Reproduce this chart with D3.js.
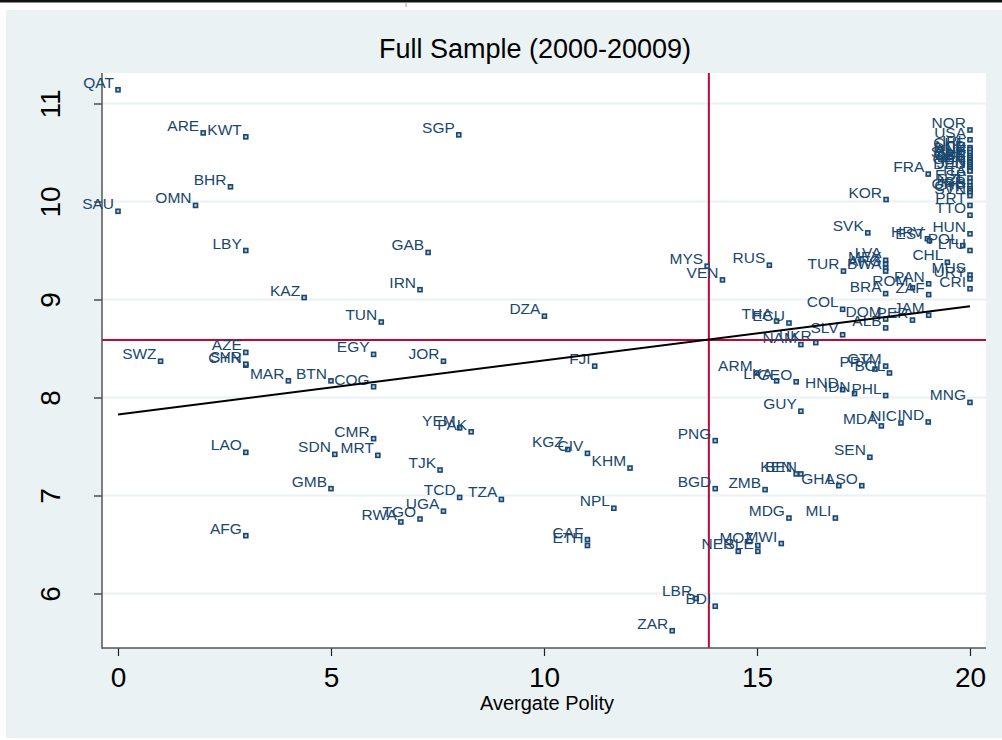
<!DOCTYPE html>
<html>
<head>
<meta charset="utf-8">
<script src="https://d3js.org/d3.v7.min.js"></script>
<style>
	body { margin: 0; background: #fff; }
	svg { display: block; font-family: 'Liberation Sans', Arial, sans-serif; }
</style>
</head>
<body>
<svg id="chart" width="1002" height="740"></svg>
<script>
// country codes, average polity (x) and log income (y)
var countries = ['QAT', 'ARE', 'KWT', 'SGP', 'BHR', 'OMN', 'SAU', 'LBY', 'GAB', 'KAZ',
	'IRN', 'TUN', 'DZA', 'SWZ', 'AZE', 'CHN', 'SYR', 'EGY', 'JOR', 'FJI',
	'MAR', 'BTN', 'COG', 'LAO', 'CMR', 'SDN', 'MRT', 'YEM', 'PAK', 'TJK',
	'GMB', 'TCD', 'TZA', 'UGA', 'TGO', 'RWA', 'AFG', 'KGZ', 'CIV', 'KHM',
	'NPL', 'CAF', 'ETH', 'ZAR', 'LBR', 'BDI', 'NER', 'SLE', 'MOZ', 'MWI',
	'MDG', 'MLI', 'BGD', 'ZMB', 'KEN', 'BEN', 'GHA', 'LSO', 'SEN', 'PNG',
	'GUY', 'MDA', 'NIC', 'IND', 'MNG', 'ARM', 'LKA', 'GEO', 'HND', 'IDN',
	'PHL', 'PRY', 'GTM', 'BOL', 'NAM', 'UKR', 'SLV', 'THA', 'ECU', 'COL',
	'DOM', 'ALB', 'PER', 'JAM', 'BRA', 'ROM', 'PAN', 'ZAF', 'TUR', 'LVA',
	'MEX', 'ARG', 'BWA', 'MYS', 'VEN', 'RUS', 'SVK', 'HRV', 'EST', 'HUN',
	'POL', 'LTU', 'CHL', 'MUS', 'URY', 'CRI', 'KOR', 'FRA', 'NOR', 'USA',
	'IRL', 'CHE', 'NLD', 'DNK', 'AUS', 'SWE', 'CAN', 'AUT', 'BEL', 'GBR',
	'FIN', 'JPN', 'DEU', 'ITA', 'ESP', 'NZL', 'ISR', 'GRC', 'CYP', 'SVN',
	'PRT', 'TTO'];
var polity = [0, 2, 3, 8, 2.64, 1.82, 0, 3, 7.28, 4.37,
	7.09, 6.18, 10.01, 1, 3, 3, 3, 6, 7.64, 11.19,
	4, 5, 6, 3, 6, 5.09, 6.1, 8.02, 8.29, 7.56,
	5, 8.02, 9, 7.64, 7.09, 6.64, 3, 10.56, 11.02, 12.02,
	11.64, 11.02, 11.02, 13.01, 13.57, 14.02, 14.56, 15.02, 15.02, 15.57,
	15.75, 16.84, 14.02, 15.19, 15.92, 16.03, 16.92, 17.46, 17.65, 14.02,
	16.03, 17.92, 18.38, 19.02, 20, 14.99, 15.46, 15.92, 17.01, 17.29,
	18.02, 17.77, 18.02, 18.11, 16.03, 16.38, 17.01, 15.46, 15.75, 17.01,
	18.02, 18.02, 18.65, 19.03, 18.02, 18.65, 19.03, 19.03, 17.03, 18.02,
	18.02, 18.02, 18.02, 13.83, 14.19, 15.29, 17.6, 19, 19.05, 20,
	19.83, 20, 19.47, 20, 20, 20, 18.03, 19.02, 20, 20,
	20, 20, 20, 20, 20, 20, 20, 20, 20, 20,
	20, 20, 20, 20, 20, 20, 20, 20, 20, 20,
	20, 20];
var lgdp = [11.14, 10.7, 10.66, 10.68, 10.15, 9.96, 9.9, 9.5, 9.48, 9.02,
	9.1, 8.77, 8.83, 8.37, 8.46, 8.33, 8.34, 8.44, 8.37, 8.32,
	8.17, 8.17, 8.11, 7.44, 7.58, 7.42, 7.41, 7.69, 7.65, 7.26,
	7.07, 6.98, 6.96, 6.84, 6.76, 6.73, 6.59, 7.47, 7.43, 7.28,
	6.87, 6.55, 6.49, 5.62, 5.95, 5.87, 6.43, 6.43, 6.49, 6.51,
	6.77, 6.77, 7.07, 7.06, 7.22, 7.22, 7.1, 7.1, 7.39, 7.56,
	7.86, 7.71, 7.74, 7.75, 7.95, 8.25, 8.17, 8.16, 8.08, 8.04,
	8.02, 8.29, 8.32, 8.25, 8.54, 8.56, 8.64, 8.78, 8.76, 8.9,
	8.8, 8.71, 8.79, 8.84, 9.06, 9.12, 9.16, 9.05, 9.29, 9.4,
	9.36, 9.32, 9.29, 9.34, 9.2, 9.35, 9.68, 9.62, 9.6, 9.67,
	9.55, 9.5, 9.38, 9.25, 9.21, 9.11, 10.02, 10.28, 10.73, 10.63,
	10.55, 10.53, 10.5, 10.47, 10.45, 10.43, 10.41, 10.4, 10.38, 10.36,
	10.34, 10.32, 10.31, 10.24, 10.2, 10.16, 10.13, 10.11, 10.09, 10.06,
	9.96, 9.86];

// fitted line end points and sample means
var fitX = [0, 20];
var fitY = [7.826, 8.93];
var meanX = 13.87;
var meanY = 8.587;

var xTicks = [0, 5, 10, 15, 20];
var yTicks = [6, 7, 8, 9, 10, 11];

var titleText = 'Full Sample (2000-20009)';
var xTitle = 'Avergate Polity';

//Layout-----------------------------------------------------------------
var plot = { left: 102, top: 73, right: 986, bottom: 648 };
var navy = '#1a476f';
var cranberry = '#c10534';
var bg = '#eaf2f3';

var svg = d3.select('#chart');

var x = d3.scaleLinear().domain([0, 20]).range([118, 970]);
var y = d3.scaleLinear().domain([6, 11]).range([593.5, 103.5]);

// page edge and graph background
svg.append('rect').attr('x', 0).attr('y', 0).attr('width', 1002).attr('height', 740)
	.attr('fill', '#fff');
svg.append('rect').attr('x', 0).attr('y', 0).attr('width', 1002).attr('height', 2.5)
	.attr('fill', '#111');
svg.append('line').attr('x1', 406).attr('x2', 406).attr('y1', 2).attr('y2', 7)
	.attr('stroke', '#999').attr('stroke-width', 1);
svg.append('rect').attr('x', 6).attr('y', 10).attr('width', 996).attr('height', 728)
	.attr('fill', bg);
svg.append('rect')
	.attr('x', plot.left).attr('y', plot.top)
	.attr('width', plot.right - plot.left).attr('height', plot.bottom - plot.top)
	.attr('fill', '#fff');

// horizontal grid
svg.append('g').selectAll('line')
	.data(yTicks)
	.enter()
	.append('line')
	.attr('x1', plot.left).attr('x2', plot.right)
	.attr('y1', function (d) { return y(d); })
	.attr('y2', function (d) { return y(d); })
	.attr('stroke', bg)
	.attr('stroke-width', 2);

// mean lines
svg.append('line')
	.attr('x1', x(meanX)).attr('x2', x(meanX))
	.attr('y1', plot.top).attr('y2', plot.bottom)
	.attr('stroke', cranberry).attr('stroke-width', 2);
svg.append('line')
	.attr('x1', plot.left).attr('x2', plot.right)
	.attr('y1', y(meanY)).attr('y2', y(meanY))
	.attr('stroke', cranberry).attr('stroke-width', 2);

// axes
var yAxis = d3.axisLeft(y).tickValues(yTicks).tickSize(8).tickPadding(0)
	.tickFormat(d3.format('d'));
var gy = svg.append('g').attr('transform', 'translate(' + plot.left + ',0)').call(yAxis);
gy.select('.domain').remove();
gy.selectAll('.tick line').attr('stroke', '#222').attr('stroke-width', 1.2);
gy.selectAll('.tick text')
	.attr('x', 0).attr('y', 0).attr('dy', 0)
	.attr('text-anchor', 'middle')
	.attr('transform', 'translate(-52,0) rotate(-90)')
	.attr('dominant-baseline', 'central')
	.attr('fill', '#000')
	.style('font-size', '28px');

var xAxis = d3.axisBottom(x).tickValues(xTicks).tickSize(8).tickPadding(11)
	.tickFormat(d3.format('d'));
var gx = svg.append('g').attr('transform', 'translate(0,' + plot.bottom + ')').call(xAxis);
gx.select('.domain').remove();
gx.selectAll('.tick line').attr('stroke', '#222').attr('stroke-width', 1.2);
gx.selectAll('.tick text')
	.attr('fill', '#000')
	.style('font-size', '28px');

svg.append('line')
	.attr('x1', plot.left).attr('x2', plot.left)
	.attr('y1', plot.top).attr('y2', plot.bottom + 0.75)
	.attr('stroke', '#555').attr('stroke-width', 1.5);
svg.append('line')
	.attr('x1', plot.left).attr('x2', plot.right)
	.attr('y1', plot.bottom).attr('y2', plot.bottom)
	.attr('stroke', '#555').attr('stroke-width', 1.5);

// titles
svg.append('text')
	.attr('x', 535).attr('y', 58)
	.attr('text-anchor', 'middle')
	.style('font-size', '27px')
	.text(titleText);
svg.append('text')
	.attr('x', 547).attr('y', 710)
	.attr('text-anchor', 'middle')
	.style('font-size', '20px')
	.text(xTitle);

//Scatter------------------------------------------------------------------
var pts = countries.map(function (c, i) {
	return { code: c, px: polity[i], gdp: lgdp[i] };
});

var marks = svg.append('g');
marks.selectAll('rect')
	.data(pts)
	.enter()
	.append('rect')
	.attr('x', function (d) { return x(d.px) - 2; })
	.attr('y', function (d) { return y(d.gdp) - 2; })
	.attr('width', 4)
	.attr('height', 4)
	.attr('fill', '#b8c8d8')
	.attr('stroke', navy)
	.attr('stroke-width', 1.6);

marks.selectAll('text')
	.data(pts)
	.enter()
	.append('text')
	.attr('x', function (d) { return x(d.px) - 4; })
	.attr('y', function (d) { return y(d.gdp) - 2; })
	.attr('text-anchor', 'end')
	.attr('fill', navy)
	.style('font-size', '15.5px')
	.text(function (d) { return d.code; });

// linear fit
var line = d3.line()
	.x(function (d) { return x(d[0]); })
	.y(function (d) { return y(d[1]); });
svg.append('path')
	.datum(fitX.map(function (v, i) { return [v, fitY[i]]; }))
	.attr('d', line)
	.attr('fill', 'none')
	.attr('stroke', '#000')
	.attr('stroke-width', 2);
</script>
</body>
</html>
